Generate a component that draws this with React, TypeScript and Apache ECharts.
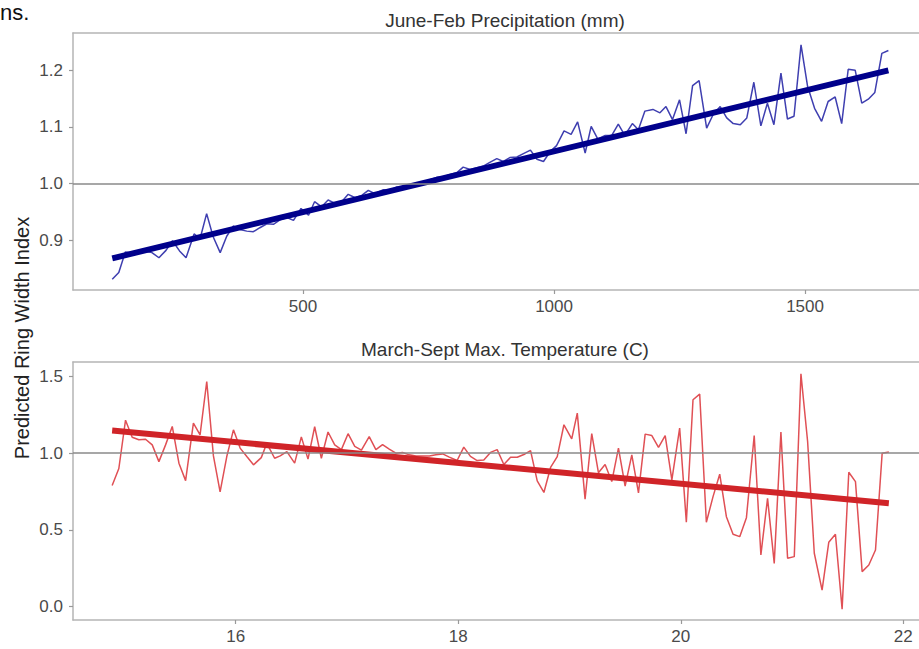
import React, { useEffect, useRef } from "react";
import * as echarts from "echarts";

// Top panel: June-Feb Precipitation (mm)
const precipX = [
  120, 133, 146, 162, 182, 199, 213, 227, 240, 254,
  267, 283, 295, 308, 321, 335, 348, 361, 374, 388,
  401, 414, 428, 441, 454, 468, 481, 496, 511, 523,
  537, 550, 564, 577, 590, 604, 617, 630, 643, 660,
  673, 687, 700, 713, 727, 740, 753, 766, 780, 793,
  806, 819, 833, 846, 859, 873, 886, 899, 912, 926,
  939, 953, 966, 979, 992, 1005, 1020, 1034, 1047, 1062,
  1074, 1087, 1102, 1115, 1128, 1141, 1156, 1168, 1181, 1197,
  1211, 1223, 1236, 1250, 1263, 1276, 1289, 1304, 1317, 1331,
  1344, 1357, 1371, 1384, 1398, 1412, 1425, 1438, 1452, 1465,
  1478, 1492, 1505, 1519, 1533, 1546, 1560, 1573, 1586, 1600,
  1613, 1626, 1639, 1653, 1666,
];
const precipY = [
  0.831, 0.843, 0.879, 0.877, 0.881, 0.878, 0.869, 0.882, 0.899, 0.881,
  0.869, 0.911, 0.903, 0.947, 0.906, 0.878, 0.907, 0.925, 0.919, 0.916,
  0.915, 0.922, 0.929, 0.928, 0.936, 0.94, 0.935, 0.956, 0.944, 0.968,
  0.959, 0.971, 0.965, 0.968, 0.981, 0.975, 0.979, 0.988, 0.982, 0.989,
  0.988, 0.994, 0.993, 0.997, 1.0, 1.002, 1.007, 1.011, 1.012, 1.016,
  1.019, 1.029, 1.025, 1.028, 1.031, 1.038, 1.044, 1.039, 1.046, 1.047,
  1.053, 1.059, 1.043, 1.039, 1.056, 1.067, 1.093, 1.087, 1.109, 1.054,
  1.101, 1.079, 1.085, 1.085, 1.105, 1.085, 1.106, 1.095, 1.128, 1.131,
  1.125, 1.136, 1.113, 1.148, 1.088, 1.173, 1.182, 1.098, 1.122, 1.136,
  1.116, 1.106, 1.104, 1.116, 1.179, 1.102, 1.142, 1.104, 1.195, 1.114,
  1.119, 1.245, 1.172, 1.133, 1.11, 1.145, 1.153, 1.106, 1.202, 1.2,
  1.142, 1.149, 1.161, 1.23, 1.235,
];
const precipFitX = [120, 1666];
const precipFitY = [0.868, 1.2];
const precipXTicks = [500, 1000, 1500];
const precipYTicks = [0.9, 1.0, 1.1, 1.2];

// Bottom panel: March-Sept Max. Temperature (C)
const tempX = [
  14.89, 14.95, 15.01, 15.07, 15.13, 15.19, 15.25, 15.31, 15.37, 15.43,
  15.49, 15.55, 15.62, 15.68, 15.74, 15.8, 15.86, 15.92, 15.98, 16.04,
  16.1, 16.16, 16.23, 16.28, 16.35, 16.4, 16.46, 16.53, 16.59, 16.65,
  16.71, 16.77, 16.83, 16.89, 16.95, 17.01, 17.07, 17.13, 17.2, 17.26,
  17.32, 17.38, 17.44, 17.5, 17.56, 17.62, 17.68, 17.74, 17.8, 17.86,
  17.92, 17.99, 18.05, 18.11, 18.17, 18.23, 18.29, 18.35, 18.41, 18.47,
  18.53, 18.59, 18.65, 18.71, 18.77, 18.83, 18.89, 18.95, 19.02, 19.07,
  19.14, 19.2, 19.26, 19.32, 19.38, 19.44, 19.5, 19.56, 19.62, 19.68,
  19.74, 19.8, 19.86, 19.92, 19.99, 20.05, 20.11, 20.17, 20.23, 20.29,
  20.35, 20.41, 20.47, 20.53, 20.59, 20.66, 20.72, 20.78, 20.84, 20.9,
  20.96, 21.02, 21.08, 21.14, 21.2, 21.27, 21.33, 21.39, 21.45, 21.51,
  21.57, 21.63, 21.69, 21.75, 21.81, 21.87,
];
const tempY = [
  0.789, 0.9, 1.215, 1.104, 1.087, 1.091, 1.054, 0.945, 1.054, 1.174,
  0.935, 0.821, 1.196, 1.119, 1.467, 0.982, 0.748, 0.978, 1.152, 1.033,
  0.978, 0.924, 0.971, 1.064, 0.967, 0.982, 1.01, 0.935, 1.106, 0.961,
  1.172, 0.967, 1.138, 1.054, 1.023, 1.127, 1.044, 1.02, 1.108, 1.023,
  1.056, 1.026, 1.0, 1.004, 0.989, 0.982, 0.982, 0.982, 0.989, 0.995,
  0.974, 0.952, 1.039, 0.979, 0.952, 0.956, 1.005, 1.023, 0.926, 0.973,
  0.973, 0.991, 1.016, 0.819, 0.744, 0.907, 0.978, 1.185, 1.093, 1.261,
  0.701, 1.128, 0.873, 0.926, 0.815, 1.033, 0.785, 0.989, 0.741, 1.124,
  1.115, 1.037, 1.115, 0.826, 1.163, 0.55, 1.348, 1.385, 0.55, 0.717,
  0.863, 0.586, 0.472, 0.456, 0.58, 1.115, 0.337, 0.706, 0.282, 1.137,
  0.315, 0.326, 1.517, 1.076, 0.348, 0.108, 0.419, 0.472, -0.016, 0.876,
  0.815, 0.228, 0.271, 0.369, 1.0, 1.007,
];
const tempFitX = [14.89, 21.87];
const tempFitY = [1.147, 0.674];
const tempXTicks = [16, 18, 20, 22];
const tempYTicks = [0.0, 0.5, 1.0, 1.5];

const titles = ["June-Feb Precipitation (mm)", "March-Sept Max. Temperature (C)"];
const yTitle = "Predicted Ring Width Index";
const cornerText = "ns.";

const zip = (xs: number[], ys: number[]) => xs.map((x, i) => [x, ys[i]]);

const FONT = "'Liberation Sans', Arial, Helvetica, sans-serif";
const AXIS_COLOR = "#b5b5b5";
const LABEL_COLOR = "#4a4a4a";

export default function App() {
  const ref = useRef<HTMLDivElement>(null);

  useEffect(() => {
    if (!ref.current) return;
    const chart = echarts.init(ref.current, null, { renderer: "svg" });

    const xAxisBase = (gridIndex: number, min: number, max: number, ticks: number[]) => ({
      type: "value",
      gridIndex,
      min,
      max,
      axisLine: { show: true, onZero: false, lineStyle: { color: AXIS_COLOR, width: 1.5 } },
      axisTick: { show: true, length: 4, customValues: ticks, lineStyle: { color: "#999", width: 1.2 } },
      axisLabel: {
        show: true,
        customValues: ticks,
        margin: 8,
        color: LABEL_COLOR,
        fontSize: 17,
        fontFamily: FONT,
        formatter: (v: number) => String(v),
      },
      splitLine: { show: false },
    });
    const topBorder = (gridIndex: number, min: number, max: number) => ({
      type: "value",
      gridIndex,
      position: "top",
      min,
      max,
      axisLine: { show: true, onZero: false, lineStyle: { color: AXIS_COLOR, width: 1.5 } },
      axisTick: { show: false },
      axisLabel: { show: false },
      splitLine: { show: false },
    });
    const yAxisBase = (gridIndex: number, min: number, max: number, ticks: number[]) => ({
      type: "value",
      gridIndex,
      min,
      max,
      axisLine: { show: true, onZero: false, lineStyle: { color: AXIS_COLOR, width: 1.5 } },
      axisTick: { show: true, length: 4, customValues: ticks, lineStyle: { color: "#999", width: 1.2 } },
      axisLabel: {
        show: true,
        customValues: ticks,
        margin: 10,
        color: LABEL_COLOR,
        fontSize: 17,
        fontFamily: FONT,
        formatter: (v: number) => v.toFixed(1),
      },
      splitLine: { show: false },
    });

    const refLine = {
      silent: true,
      symbol: "none",
      label: { show: false },
      lineStyle: { color: "#8a8a8a", width: 1.5, type: "solid" },
      data: [{ yAxis: 1.0 }],
    };

    chart.setOption({
      animation: false,
      backgroundColor: "#ffffff",
      title: [
        {
          text: titles[0],
          left: 500,
          top: 6,
          textAlign: "center",
          textStyle: { fontSize: 19, fontWeight: "normal", color: "#333", fontFamily: FONT },
        },
        {
          text: titles[1],
          left: 500,
          top: 335,
          textAlign: "center",
          textStyle: { fontSize: 19, fontWeight: "normal", color: "#333", fontFamily: FONT },
        },
      ],
      grid: [
        { left: 73, top: 33, right: 0, height: 257 },
        { left: 73, top: 362, right: 0, height: 258 },
      ],
      xAxis: [
        xAxisBase(0, 41.8, 1727, precipXTicks),
        xAxisBase(1, 14.538, 22.141, tempXTicks),
        topBorder(0, 41.8, 1727),
        topBorder(1, 14.538, 22.141),
      ],
      yAxis: [
        yAxisBase(0, 0.812, 1.266, precipYTicks),
        yAxisBase(1, -0.087, 1.594, tempYTicks),
      ],
      graphic: [
        {
          type: "text",
          rotation: Math.PI / 2,
          x: 22,
          y: 338,
          style: {
            text: yTitle,
            fill: "#222",
            font: `20px ${FONT}`,
            textAlign: "center",
            textVerticalAlign: "middle",
          },
        },
        {
          type: "text",
          x: 0,
          y: 1,
          style: {
            text: cornerText,
            fill: "#111",
            font: `22px ${FONT}`,
            textAlign: "left",
            textVerticalAlign: "top",
          },
        },
      ],
      series: [
        {
          type: "line",
          xAxisIndex: 0,
          yAxisIndex: 0,
          data: zip(precipX, precipY),
          symbol: "none",
          z: 2,
          lineStyle: { color: "#3f3fb0", width: 1.5 },
          markLine: refLine,
        },
        {
          type: "line",
          xAxisIndex: 0,
          yAxisIndex: 0,
          data: zip(precipFitX, precipFitY),
          symbol: "none",
          z: 3,
          lineStyle: { color: "#00008b", width: 6 },
        },
        {
          type: "line",
          xAxisIndex: 1,
          yAxisIndex: 1,
          data: zip(tempX, tempY),
          symbol: "none",
          z: 2,
          lineStyle: { color: "#e05055", width: 1.5 },
          markLine: refLine,
        },
        {
          type: "line",
          xAxisIndex: 1,
          yAxisIndex: 1,
          data: zip(tempFitX, tempFitY),
          symbol: "none",
          z: 3,
          lineStyle: { color: "#d02428", width: 6 },
        },
      ],
    });

    return () => chart.dispose();
  }, []);

  return (
    <div
      ref={ref}
      style={{ position: "fixed", left: 0, top: 0, width: 919, height: 649, background: "#fff" }}
    />
  );
}
